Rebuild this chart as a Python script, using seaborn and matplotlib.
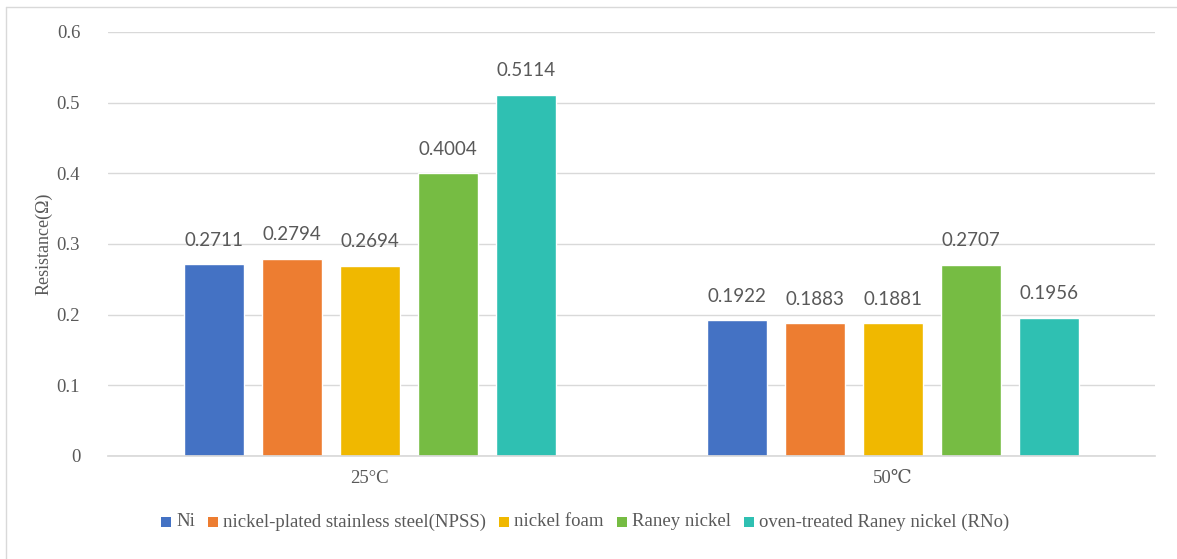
import matplotlib
matplotlib.use("Agg")
import matplotlib.pyplot as plt
from matplotlib.lines import Line2D
from matplotlib.patches import Rectangle
import pandas as pd
import seaborn as sns

# Data
temperatures = ["25°C", "50℃"]
materials = [
    "Ni",
    "nickel-plated stainless steel(NPSS)",
    "nickel foam",
    "Raney nickel",
    "oven-treated Raney nickel (RNo)",
]
resistance_25 = [0.2711, 0.2794, 0.2694, 0.4004, 0.5114]
resistance_50 = [0.1922, 0.1883, 0.1881, 0.2707, 0.1956]
yticks = [0, 0.1, 0.2, 0.3, 0.4, 0.5, 0.6]
ytick_labels = ["0", "0.1", "0.2", "0.3", "0.4", "0.5", "0.6"]
colors = ["#4472C4", "#ED7D31", "#F0B800", "#76BC43", "#2FC0B2"]

rows = []
for temp, vals in zip(temperatures, [resistance_25, resistance_50]):
    for mat, v in zip(materials, vals):
        rows.append({"Temperature": temp, "Material": mat, "Resistance": v})
df = pd.DataFrame(rows)

sns.set_theme(style="white")
serif = ["Liberation Serif", "DejaVu Serif"]
plt.rcParams["font.family"] = serif
text_color = "#595959"
grid_color = "#D9D9D9"

W, H = 1177, 559
fig = plt.figure(figsize=(W / 100, H / 100), dpi=100)
ax = fig.add_axes([108 / W, 1 - 456 / H, (1155 - 108) / W, (456 - 32) / H])

sns.barplot(
    data=df, x="Temperature", y="Resistance", hue="Material",
    order=temperatures, hue_order=materials, palette=colors,
    width=0.745, gap=0.23, saturation=1, ax=ax, legend=False,
)

ax.set_xlim(-0.5, 1.5)
ax.set_ylim(0, 0.6)
ax.set_yticks(yticks)
ax.set_yticklabels(ytick_labels)
ax.yaxis.grid(True, color=grid_color, linewidth=1)
ax.set_axisbelow(True)
for side in ["top", "right", "left"]:
    ax.spines[side].set_visible(False)
ax.spines["bottom"].set_color(grid_color)
ax.tick_params(axis="both", length=0, labelsize=13.5, colors=text_color)
ax.tick_params(axis="y", pad=20)
ax.tick_params(axis="x", pad=10)
ax.set_xlabel("")
ax.set_ylabel("Resistance(Ω)", fontsize=13, color=text_color, labelpad=3)

for container in ax.containers:
    ax.bar_label(container, fmt="%.4f", padding=11, fontsize=13.5,
                 color=text_color, family=["Lato", "DejaVu Sans"])

# Legend row laid out entry by entry in pixel units
renderer = fig.canvas.get_renderer()
legend_y = 522          # vertical centre, pixels from top
square = 10             # marker size
text_pad = 5            # gap between marker and label
col_gap = 13            # gap between entries
legend_cx = 585         # horizontal centre

label_texts = []
widths = []
for name in materials:
    t = fig.text(0, 1 - legend_y / H, name, fontsize=13.5, color=text_color,
                 family=serif, ha="left", va="center")
    label_texts.append(t)
    widths.append(t.get_window_extent(renderer).width)

total = sum(square + text_pad + w for w in widths) + col_gap * (len(materials) - 1)
x = legend_cx - total / 2
for t, w, c in zip(label_texts, widths, colors):
    fig.add_artist(Rectangle((x / W, 1 - (legend_y + square / 2) / H),
                             square / W, square / H, transform=fig.transFigure,
                             facecolor=c, edgecolor="none"))
    t.set_x((x + square + text_pad) / W)
    x += square + text_pad + w + col_gap

# Chart-area border (top and left edges)
fig.add_artist(Line2D([6 / W, 1.0], [1 - 7 / H, 1 - 7 / H],
                      transform=fig.transFigure, color="#D9D9D9", linewidth=1))
fig.add_artist(Line2D([6 / W, 6 / W], [0.0, 1 - 7 / H],
                      transform=fig.transFigure, color="#D9D9D9", linewidth=1))

fig.savefig("out.png", dpi=100, facecolor="white")
